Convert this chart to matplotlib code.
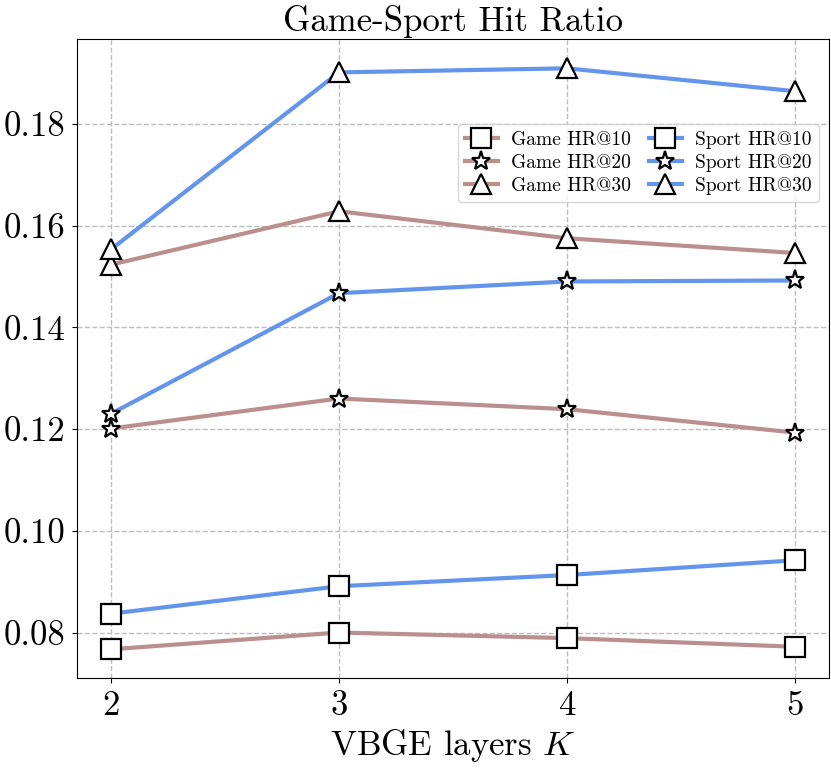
import matplotlib
matplotlib.use("Agg")
import matplotlib.pyplot as plt

plt.rcParams['font.family'] = 'serif'
plt.rcParams['font.serif'] = ['cmr10']
plt.rcParams['mathtext.fontset'] = 'cm'
plt.rcParams['axes.formatter.use_mathtext'] = True

layers = [2, 3, 4, 5]

game_hr10 = [0.0767, 0.0800, 0.0789, 0.0772]
game_hr20 = [0.1201, 0.1260, 0.1239, 0.1193]
game_hr30 = [0.1523, 0.1628, 0.1575, 0.1546]

sport_hr10 = [0.0837, 0.0891, 0.0913, 0.0942]
sport_hr20 = [0.1230, 0.1467, 0.1490, 0.1492]
sport_hr30 = [0.1553, 0.1901, 0.1909, 0.1864]

game_color = '#bc8f8f'
sport_color = '#6495ed'

fig = plt.figure(figsize=(8.31, 7.7), dpi=100)
ax = fig.add_axes([0.0923, 0.119, 0.9057, 0.830])

mk = dict(markersize=14, markerfacecolor='white', markeredgecolor='black',
          markeredgewidth=1.6, linewidth=3)

ax.plot(layers, game_hr10, marker='s', color=game_color, label='Game HR@10', **mk)
ax.plot(layers, game_hr20, marker='*', color=game_color, label='Game HR@20', **mk)
ax.plot(layers, game_hr30, marker='^', color=game_color, label='Game HR@30', **mk)
ax.plot(layers, sport_hr10, marker='s', color=sport_color, label='Sport HR@10', **mk)
ax.plot(layers, sport_hr20, marker='*', color=sport_color, label='Sport HR@20', **mk)
ax.plot(layers, sport_hr30, marker='^', color=sport_color, label='Sport HR@30', **mk)

ax.set_xticks(layers)
ax.set_yticks([0.08, 0.10, 0.12, 0.14, 0.16, 0.18])
ax.set_yticklabels(['0.08', '0.10', '0.12', '0.14', '0.16', '0.18'])
ax.tick_params(labelsize=25, pad=5)
ax.grid(True, linestyle='--', color='#bdbdbd', linewidth=1)
ax.set_axisbelow(True)

ax.set_title('Game-Sport Hit Ratio', fontsize=25, pad=6)
ax.set_xlabel(r'VBGE layers $K$', fontsize=25, labelpad=4)

ax.legend(ncol=2, fontsize=14, loc='upper right', bbox_to_anchor=(0.986, 0.867),
          borderaxespad=0, columnspacing=0.9, handlelength=1.7,
          handletextpad=0.7, labelspacing=0.25, borderpad=0.35)

fig.savefig('out.png', dpi=100)
